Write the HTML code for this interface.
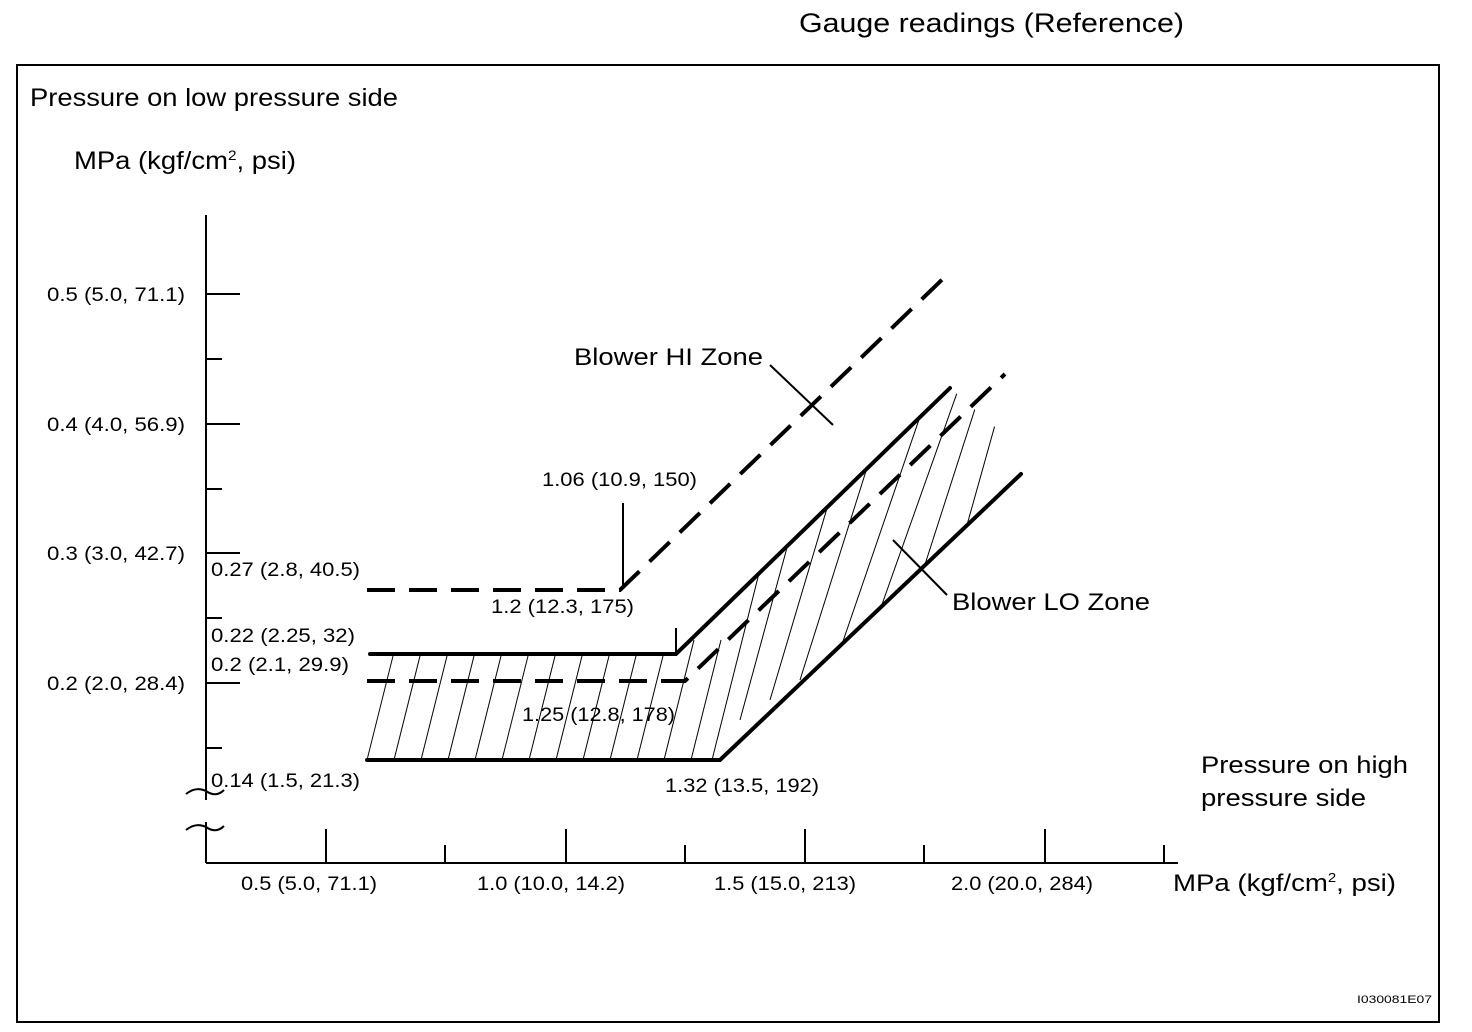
<!DOCTYPE html>
<html><head><style>body{margin:0;background:#fff}svg{display:block}text{font-family:"Liberation Sans",sans-serif;fill:#000}</style></head><body>
<svg width="1472" height="1032" viewBox="0 0 1472 1032">
<defs><clipPath id="c"><polygon points="367,760 720,760 1021,474 1010,440 950,388 676,654 370,654"/></clipPath></defs>
<text x="799" y="32" font-size="27" textLength="385" lengthAdjust="spacingAndGlyphs">Gauge readings (Reference)</text>
<rect x="17" y="65" width="1422" height="957" fill="none" stroke="#000" stroke-width="2"/>
<text x="30" y="106" font-size="25" textLength="368" lengthAdjust="spacingAndGlyphs">Pressure on low pressure side</text>
<text x="74" y="169" font-size="25" textLength="222" lengthAdjust="spacingAndGlyphs">MPa (kgf/cm<tspan font-size="14" dy="-9">2</tspan><tspan dy="9">, psi)</tspan></text>
<g stroke="#000" stroke-width="2" fill="none">
<line x1="206" y1="215" x2="206" y2="863"/>
<line x1="206" y1="863" x2="1178" y2="863"/>
<line x1="206" y1="294" x2="240" y2="294"/><line x1="206" y1="424" x2="240" y2="424"/><line x1="206" y1="553" x2="240" y2="553"/><line x1="206" y1="683" x2="240" y2="683"/>
<line x1="206" y1="359" x2="222" y2="359"/><line x1="206" y1="489" x2="222" y2="489"/><line x1="206" y1="618" x2="222" y2="618"/><line x1="206" y1="748" x2="222" y2="748"/>
<line x1="326" y1="829" x2="326" y2="863"/><line x1="566" y1="829" x2="566" y2="863"/><line x1="805" y1="829" x2="805" y2="863"/><line x1="1045" y1="829" x2="1045" y2="863"/>
<line x1="445" y1="845" x2="445" y2="863"/><line x1="685" y1="845" x2="685" y2="863"/><line x1="924" y1="845" x2="924" y2="863"/><line x1="1164" y1="845" x2="1164" y2="863"/>
<path d="M186,794 Q196,786 206,791 Q216,798 224,790" fill="#fff"/>
<path d="M186,830 Q196,822 206,827 Q216,834 224,826"/>
<line x1="623" y1="503" x2="623" y2="588"/><line x1="676" y1="628" x2="676" y2="654"/>
<line x1="770" y1="365" x2="833" y2="425"/><line x1="893" y1="540" x2="947" y2="595"/>
</g>
<line x1="206" y1="800" x2="206" y2="822" stroke="#fff" stroke-width="4"/>
<g clip-path="url(#c)" stroke="#000" stroke-width="1">
<line x1="367" y1="760" x2="397" y2="640"/><line x1="394" y1="760" x2="424" y2="640"/><line x1="421" y1="760" x2="451" y2="640"/><line x1="448" y1="760" x2="478" y2="640"/><line x1="475" y1="760" x2="505" y2="640"/><line x1="502" y1="760" x2="532" y2="640"/><line x1="529" y1="760" x2="559" y2="640"/><line x1="556" y1="760" x2="586" y2="640"/><line x1="583" y1="760" x2="613" y2="640"/><line x1="610" y1="760" x2="640" y2="640"/><line x1="637" y1="760" x2="667" y2="640"/><line x1="664" y1="760" x2="694" y2="640"/><line x1="691" y1="760" x2="721" y2="640"/>
<line x1="712" y1="760" x2="790" y2="450"/><line x1="740" y1="720" x2="830" y2="390"/><line x1="770" y1="700" x2="880" y2="330"/><line x1="800" y1="680" x2="920" y2="300"/><line x1="840" y1="650" x2="960" y2="300"/><line x1="880" y1="610" x2="990" y2="300"/><line x1="920" y1="580" x2="1010" y2="300"/><line x1="960" y1="550" x2="1030" y2="300"/>
</g>
<g stroke="#000" stroke-width="4" fill="none" stroke-linecap="round">
<polyline points="370,654 676,654 950,388"/>
<polyline points="367,760 720,760 1021,474"/>
<polyline points="367,590 620,590 950,272" stroke-dasharray="28,14" stroke-linecap="butt"/>
<polyline points="367,681 685,681 1005,374" stroke-dasharray="28,14" stroke-linecap="butt"/>
</g>
<g font-size="19">
<text x="47" y="301" textLength="138" lengthAdjust="spacingAndGlyphs">0.5 (5.0, 71.1)</text>
<text x="47" y="431" textLength="138" lengthAdjust="spacingAndGlyphs">0.4 (4.0, 56.9)</text>
<text x="47" y="560" textLength="138" lengthAdjust="spacingAndGlyphs">0.3 (3.0, 42.7)</text>
<text x="47" y="690" textLength="138" lengthAdjust="spacingAndGlyphs">0.2 (2.0, 28.4)</text>
<text x="211" y="576" textLength="149" lengthAdjust="spacingAndGlyphs">0.27 (2.8, 40.5)</text>
<text x="211" y="642" textLength="144" lengthAdjust="spacingAndGlyphs">0.22 (2.25, 32)</text>
<text x="211" y="671" textLength="138" lengthAdjust="spacingAndGlyphs">0.2 (2.1, 29.9)</text>
<text x="211" y="787" textLength="149" lengthAdjust="spacingAndGlyphs">0.14 (1.5, 21.3)</text>
<text x="542" y="486" textLength="155" lengthAdjust="spacingAndGlyphs">1.06 (10.9, 150)</text>
<text x="491" y="613" textLength="143" lengthAdjust="spacingAndGlyphs">1.2 (12.3, 175)</text>
<text x="522" y="721" textLength="153" lengthAdjust="spacingAndGlyphs">1.25 (12.8, 178)</text>
<text x="665" y="792" textLength="154" lengthAdjust="spacingAndGlyphs">1.32 (13.5, 192)</text>
<text x="241" y="890" textLength="136" lengthAdjust="spacingAndGlyphs">0.5 (5.0, 71.1)</text>
<text x="477" y="890" textLength="148" lengthAdjust="spacingAndGlyphs">1.0 (10.0, 14.2)</text>
<text x="714" y="890" textLength="142" lengthAdjust="spacingAndGlyphs">1.5 (15.0, 213)</text>
<text x="951" y="890" textLength="142" lengthAdjust="spacingAndGlyphs">2.0 (20.0, 284)</text>
</g>
<g font-size="24">
<text x="574" y="365" textLength="189" lengthAdjust="spacingAndGlyphs">Blower HI Zone</text>
<text x="952" y="610" textLength="198" lengthAdjust="spacingAndGlyphs">Blower LO Zone</text>
<text x="1201" y="773" textLength="207" lengthAdjust="spacingAndGlyphs">Pressure on high</text>
<text x="1201" y="806" textLength="165" lengthAdjust="spacingAndGlyphs">pressure side</text>
<text x="1173" y="891" textLength="223" lengthAdjust="spacingAndGlyphs">MPa (kgf/cm<tspan font-size="13" dy="-9">2</tspan><tspan dy="9">, psi)</tspan></text>
</g>
<text x="1357" y="1003" font-size="11" textLength="75" lengthAdjust="spacingAndGlyphs">I030081E07</text>
</svg>
</body></html>
